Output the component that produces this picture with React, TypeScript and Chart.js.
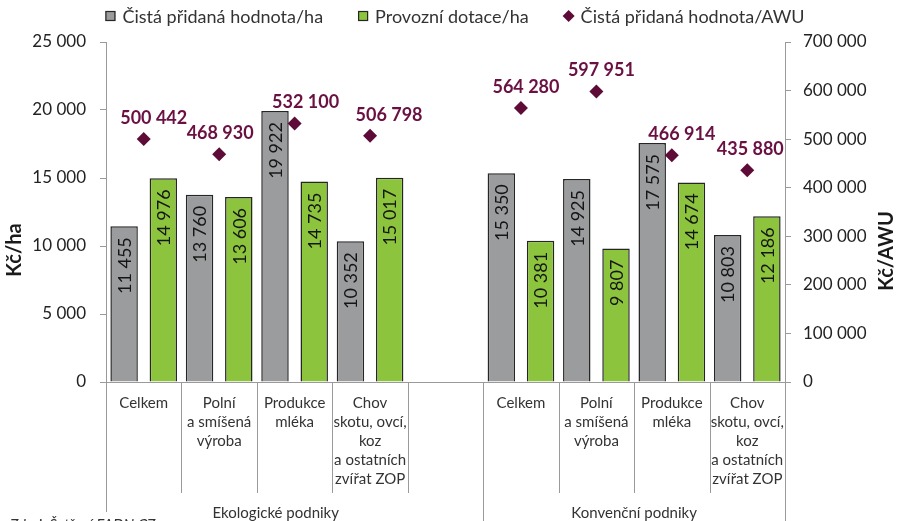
import React, { useEffect, useRef } from "react";
import { Chart, registerables } from "chart.js";

Chart.register(...registerables);

const categories: string[][] = [
  ["Celkem"],
  ["Polní", "a smíšená", "výroba"],
  ["Produkce", "mléka"],
  ["Chov", "skotu, ovcí,", "koz", "a ostatních", "zvířat ZOP"],
  [""],
  ["Celkem"],
  ["Polní", "a smíšená", "výroba"],
  ["Produkce", "mléka"],
  ["Chov", "skotu, ovcí,", "koz", "a ostatních", "zvířat ZOP"],
];
const groupLabels = ["Ekologické podniky", "Konvenční podniky"];

const cphHa: (number | null)[] = [11455, 13760, 19922, 10352, null, 15350, 14925, 17575, 10803];
const dotaceHa: (number | null)[] = [14976, 13606, 14735, 15017, null, 10381, 9807, 14674, 12186];
const cphAwu: (number | null)[] = [500442, 468930, 532100, 506798, null, 564280, 597951, 466914, 435880];
// manual horizontal nudges of the AWU value labels (as placed in the original)
const awuLabelNudge: number[] = [10, 1, 11, 19, 0, 5, 5, 10, 3];

const seriesNames = ["Čistá přidaná hodnota/ha", "Provozní dotace/ha", "Čistá přidaná hodnota/AWU"];

const GREY = "#9A9C9D";
const GREEN = "#8CC43D";
const MAROON = "#5E0B38";
const LABEL_MAROON = "#6A1042";
const BORDER = "#262626";
const AXIS = "#9A9A9A";
const FONT = "Lato, 'Noto Sans', sans-serif";

const fmt = (n: number) => Math.round(n).toString().replace(/\B(?=(\d{3})+(?!\d))/g, " ");

const overlayPlugin = {
  id: "overlay",
  afterDatasetsDraw(chart: any) {
    const ctx = chart.ctx;
    ctx.save();
    // bar value labels (rotated)
    [0, 1].forEach((di) => {
      const meta = chart.getDatasetMeta(di);
      const vals = chart.data.datasets[di].data;
      meta.data.forEach((el: any, i: number) => {
        if (vals[i] == null) return;
        ctx.save();
        ctx.translate(el.x, el.y + 11);
        ctx.rotate(-Math.PI / 2);
        ctx.font = `18px ${FONT}`;
        ctx.fillStyle = "#151515";
        ctx.textAlign = "right";
        ctx.textBaseline = "middle";
        ctx.fillText(fmt(vals[i]), 0, 1);
        ctx.restore();
      });
    });
    // AWU labels
    const meta2 = chart.getDatasetMeta(2);
    const v2 = chart.data.datasets[2].data;
    meta2.data.forEach((el: any, i: number) => {
      if (v2[i] == null) return;
      ctx.font = `bold 18px ${FONT}`;
      ctx.fillStyle = LABEL_MAROON;
      ctx.textAlign = "center";
      ctx.textBaseline = "middle";
      ctx.fillText(fmt(v2[i]), el.x + awuLabelNudge[i], el.y - 21);
    });
    ctx.restore();
  },
  afterDraw(chart: any) {
    const ctx = chart.ctx;
    const x = chart.scales.x;
    const area = chart.chartArea;
    const n = categories.length;
    const half = (x.getPixelForValue(1) - x.getPixelForValue(0)) / 2;
    ctx.save();
    // divider lines
    ctx.strokeStyle = AXIS;
    ctx.lineWidth = 1;
    const line = (px: number, y2: number) => {
      ctx.beginPath();
      ctx.moveTo(Math.round(px) + 0.5, area.bottom);
      ctx.lineTo(Math.round(px) + 0.5, y2);
      ctx.stroke();
    };
    for (let i = 0; i <= n; i++) {
      const px = i < n ? x.getPixelForValue(i) - half : x.getPixelForValue(n - 1) + half;
      if (i === 0) line(px, 512);
      else if (i === 5 || i === n) line(px, 521);
      else line(px, 493);
    }
    // category labels
    ctx.font = `15px ${FONT}`;
    ctx.fillStyle = "#333";
    ctx.textAlign = "center";
    ctx.textBaseline = "middle";
    categories.forEach((lines, i) => {
      const cx = x.getPixelForValue(i);
      lines.forEach((t, k) => ctx.fillText(t, cx, area.bottom + 21 + k * 19));
    });
    // group labels
    const g1 = (x.getPixelForValue(0) - half + x.getPixelForValue(4)) / 2;
    const g2 = (x.getPixelForValue(5) - half + x.getPixelForValue(8) + half) / 2;
    ctx.fillText(groupLabels[0], g1, 513);
    ctx.fillText(groupLabels[1], g2, 513);
    // axis titles
    ctx.font = `bold 20px ${FONT}`;
    ctx.fillStyle = "#1a1a1a";
    ctx.save();
    ctx.translate(15, 250);
    ctx.rotate(-Math.PI / 2);
    ctx.fillText("Kč/ha", 0, 0);
    ctx.restore();
    ctx.save();
    ctx.translate(887, 251);
    ctx.rotate(-Math.PI / 2);
    ctx.fillText("Kč/AWU", 0, 0);
    ctx.restore();
    // legend
    ctx.font = `18px ${FONT}`;
    const box = 10;
    const gapBT = 7;
    const gapItem = 35;
    const widths = seriesNames.map((s) => ctx.measureText(s).width);
    const total = widths.reduce((a, b) => a + b, 0) + 3 * (box + gapBT) + 2 * gapItem;
    let lx = 455 - total / 2;
    const ly = 16;
    seriesNames.forEach((s, i) => {
      if (i < 2) {
        ctx.fillStyle = i === 0 ? GREY : GREEN;
        ctx.fillRect(lx, ly - box / 2, box, box);
        ctx.strokeStyle = BORDER;
        ctx.lineWidth = 1.2;
        ctx.strokeRect(lx + 0.5, ly - box / 2 + 0.5, box - 1, box - 1);
      } else {
        ctx.fillStyle = MAROON;
        ctx.beginPath();
        ctx.moveTo(lx + box / 2, ly - 6);
        ctx.lineTo(lx + box / 2 + 6, ly);
        ctx.lineTo(lx + box / 2, ly + 6);
        ctx.lineTo(lx + box / 2 - 6, ly);
        ctx.closePath();
        ctx.fill();
      }
      ctx.fillStyle = "#333";
      ctx.textAlign = "left";
      ctx.fillText(s, lx + box + gapBT, ly + 1);
      lx += box + gapBT + widths[i] + gapItem;
    });
    // footer (cut off by the bottom edge, as in the original)
    ctx.font = `italic 15px ${FONT}`;
    ctx.fillStyle = "#333";
    ctx.textAlign = "left";
    ctx.textBaseline = "alphabetic";
    ctx.fillText("Zdroj: Šetření FADN CZ", 10, 530);
    ctx.restore();
  },
};

export default function App() {
  const ref = useRef<HTMLCanvasElement>(null);
  useEffect(() => {
    if (!ref.current) return;
    const chart = new Chart(ref.current, {
      type: "bar",
      data: {
        labels: categories.map((c) => c.join(" ")),
        datasets: [
          {
            label: seriesNames[0],
            data: cphHa,
            backgroundColor: GREY,
            borderColor: BORDER,
            borderWidth: 1.5,
            categoryPercentage: 1.04,
            barPercentage: 0.7,
            yAxisID: "y",
            order: 1,
          },
          {
            label: seriesNames[1],
            data: dotaceHa,
            backgroundColor: GREEN,
            borderColor: BORDER,
            borderWidth: 1.5,
            categoryPercentage: 1.04,
            barPercentage: 0.7,
            yAxisID: "y",
            order: 1,
          },
          {
            type: "line",
            label: seriesNames[2],
            data: cphAwu,
            showLine: false,
            pointStyle: "rectRot",
            pointRadius: 7,
            pointBackgroundColor: MAROON,
            pointBorderColor: MAROON,
            pointBorderWidth: 0,
            yAxisID: "y1",
            order: 0,
          } as any,
        ],
      },
      options: {
        responsive: false,
        animation: false,
        devicePixelRatio: 1,
        layout: { padding: { top: 42, left: 0, right: 0, bottom: 0 } },
        plugins: { legend: { display: false }, tooltip: { enabled: false } },
        scales: {
          x: {
            grid: { display: false },
            border: { display: true, color: AXIS },
            ticks: { display: false },
            afterFit: (s: any) => {
              s.height = 139;
            },
          },
          y: {
            position: "left",
            min: 0,
            max: 25000,
            ticks: {
              stepSize: 5000,
              padding: 14,
              color: "#222",
              font: { family: FONT, size: 17 },
              callback: (v: any) => fmt(Number(v)),
            },
            grid: { drawOnChartArea: false, tickLength: 6, color: AXIS },
            border: { display: true, color: AXIS },
            afterFit: (s: any) => {
              s.width = 106;
            },
          },
          y1: {
            position: "right",
            min: 0,
            max: 700000,
            ticks: {
              stepSize: 100000,
              padding: 12,
              color: "#222",
              font: { family: FONT, size: 17 },
              callback: (v: any) => fmt(Number(v)),
            },
            grid: { drawOnChartArea: false, tickLength: 6, color: AXIS },
            border: { display: true, color: AXIS },
            afterFit: (s: any) => {
              s.width = 116;
            },
          },
        },
      },
      plugins: [overlayPlugin],
    });
    return () => chart.destroy();
  }, []);
  return (
    <div style={{ position: "absolute", left: 0, top: 0, width: 901, height: 521, background: "#fff" }}>
      <canvas ref={ref} width={901} height={521} />
    </div>
  );
}
